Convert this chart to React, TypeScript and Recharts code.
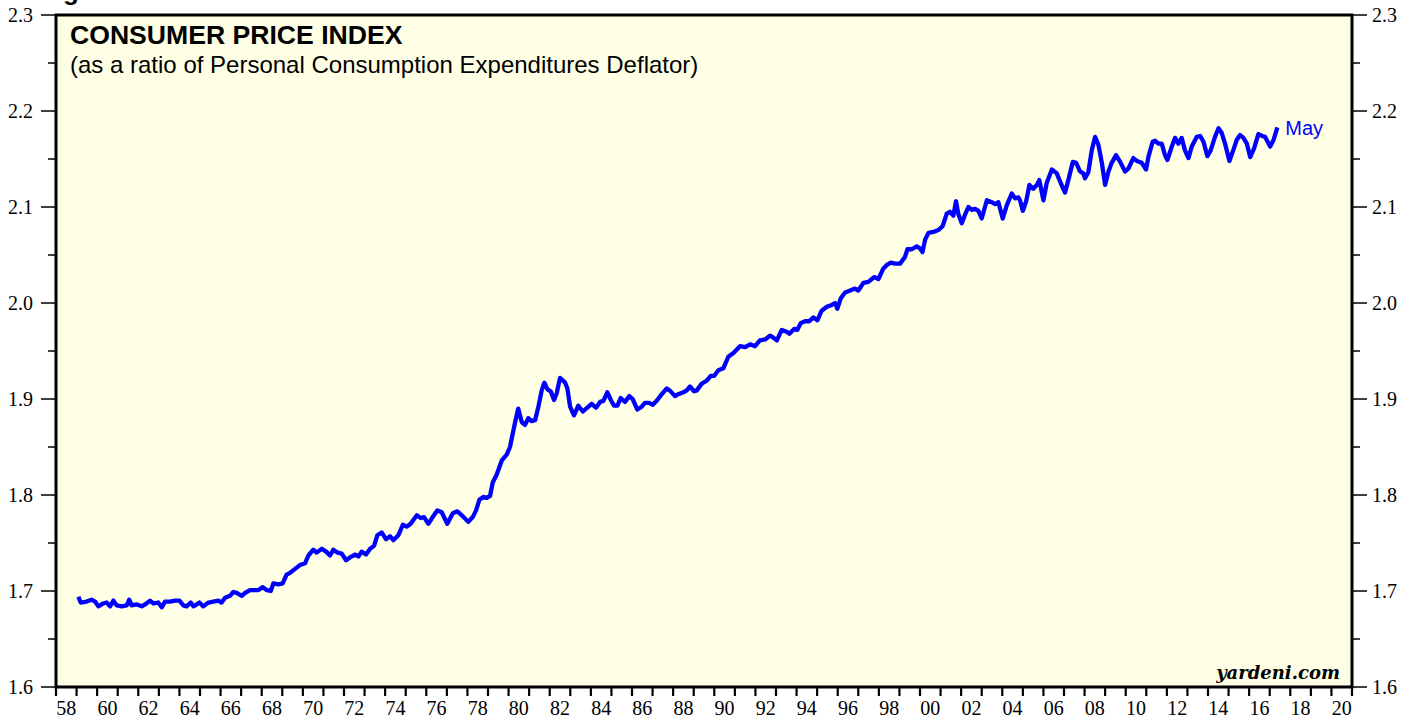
import React from 'react';
import { LineChart, Line, XAxis, YAxis, ReferenceArea } from 'recharts';

// fecha decimal (año + fracción) y cociente IPC / deflactor PCE
const months = [
  1959.09, 1959.2, 1959.49, 1959.73, 1959.9, 1960.06, 1960.3, 1960.46, 1960.63, 1960.79, 1960.95,
  1961.19, 1961.44, 1961.56, 1961.68, 1961.92, 1962.17, 1962.33, 1962.57, 1962.73, 1962.97,
  1963.14, 1963.3, 1963.54, 1963.79, 1964.0, 1964.19, 1964.35, 1964.55, 1964.68, 1964.84, 1964.97,
  1965.16, 1965.41, 1965.65, 1965.89, 1966.05, 1966.22, 1966.46, 1966.62, 1966.78, 1967.03,
  1967.19, 1967.43, 1967.84, 1968.05, 1968.24, 1968.44, 1968.57, 1968.81, 1969.02, 1969.21,
  1969.38, 1969.62, 1969.86,
  1970.11, 1970.27, 1970.51, 1970.67, 1970.92, 1971.13, 1971.32, 1971.48, 1971.68, 1971.89,
  1972.1, 1972.29, 1972.54, 1972.7, 1972.86, 1973.07, 1973.27, 1973.46, 1973.62, 1973.83,
  1974.04, 1974.24, 1974.4, 1974.64, 1974.86, 1975.05, 1975.24, 1975.54, 1975.73, 1975.89,
  1976.1, 1976.31, 1976.54, 1976.75, 1977.02, 1977.29, 1977.51, 1977.77, 1978.04, 1978.26,
  1978.42, 1978.58, 1978.77, 1978.94, 1979.1, 1979.23, 1979.42, 1979.67, 1979.91, 1980.07,
  1980.31, 1980.47,
  1980.64, 1980.8, 1980.96, 1981.12, 1981.29, 1981.45, 1981.61, 1981.74, 1981.89, 1982.05,
  1982.21, 1982.34, 1982.5, 1982.75, 1982.86, 1982.99, 1983.18, 1983.39, 1983.61, 1983.83,
  1984.04, 1984.25, 1984.45, 1984.61, 1984.8, 1984.97, 1985.13, 1985.29, 1985.45, 1985.66,
  1985.87, 1986.03, 1986.26, 1986.47, 1986.63, 1986.84, 1987.01, 1987.23, 1987.45, 1987.69,
  1987.88, 1988.09, 1988.25, 1988.5, 1988.66, 1988.82, 1989.02, 1989.15, 1989.39, 1989.63,
  1989.83, 1989.99, 1990.2, 1990.44,
  1990.68, 1990.93, 1991.25, 1991.5, 1991.74, 1991.98, 1992.22, 1992.47, 1992.71, 1992.87,
  1993.04, 1993.28, 1993.52, 1993.65, 1993.88, 1994.04, 1994.2, 1994.41, 1994.62, 1994.82,
  1995.01, 1995.22, 1995.47, 1995.71, 1995.87, 1995.98, 1996.15, 1996.36, 1996.6, 1996.84,
  1997.0, 1997.25, 1997.49, 1997.77, 1997.98, 1998.22, 1998.41, 1998.58, 1998.79, 1999.03,
  1999.27, 1999.39, 1999.6, 1999.84, 2000.0, 2000.12, 2000.25, 2000.41, 2000.65, 2000.89,
  2001.1, 2001.3,
  2001.46, 2001.62, 2001.75, 2001.86, 2002.03, 2002.19, 2002.35, 2002.52, 2002.68, 2002.84,
  2003.0, 2003.25, 2003.49, 2003.65, 2003.81, 2004.02, 2004.22, 2004.46, 2004.62, 2004.78,
  2004.86, 2005.0, 2005.16, 2005.32, 2005.51, 2005.68, 2005.8, 2006.0, 2006.16, 2006.41,
  2006.65, 2006.84, 2007.05, 2007.21, 2007.43, 2007.59, 2007.78, 2007.94, 2008.02, 2008.18,
  2008.35, 2008.51, 2008.67, 2008.84, 2009.0, 2009.16, 2009.32, 2009.53, 2009.73, 2009.97,
  2010.13,
  2010.37, 2010.54, 2010.78, 2010.99, 2011.1, 2011.31, 2011.43, 2011.59, 2011.75, 2011.91,
  2012.03, 2012.24, 2012.4, 2012.56, 2012.72, 2012.88, 2013.05, 2013.21, 2013.45, 2013.62,
  2013.78, 2013.97, 2014.13, 2014.34, 2014.51, 2014.67, 2014.83, 2015.04, 2015.21, 2015.4,
  2015.56, 2015.72, 2015.89, 2016.05, 2016.24, 2016.45, 2016.63, 2016.78, 2017.02, 2017.19,
  2017.37,
];

const ratio = [
  1.694, 1.688, 1.689, 1.691, 1.689, 1.684, 1.687, 1.688, 1.684, 1.69, 1.685,
  1.684, 1.685, 1.691, 1.685, 1.686, 1.684, 1.686, 1.69, 1.687, 1.688,
  1.683, 1.689, 1.689, 1.69, 1.69, 1.685, 1.684, 1.688, 1.684, 1.686, 1.688,
  1.684, 1.688, 1.689, 1.69, 1.688, 1.693, 1.695, 1.699, 1.698, 1.695,
  1.698, 1.701, 1.701, 1.704, 1.701, 1.7, 1.708, 1.707, 1.708, 1.717,
  1.719, 1.723, 1.727,
  1.729, 1.737, 1.743, 1.74, 1.744, 1.741, 1.737, 1.743, 1.74, 1.739,
  1.732, 1.735, 1.738, 1.736, 1.741, 1.738, 1.744, 1.747, 1.758, 1.761,
  1.754, 1.757, 1.753, 1.758, 1.769, 1.767, 1.77, 1.779, 1.776, 1.777,
  1.77, 1.777, 1.784, 1.782, 1.77, 1.781, 1.783, 1.778, 1.772, 1.777,
  1.784, 1.795, 1.798, 1.797, 1.799, 1.813, 1.821, 1.836, 1.842, 1.85,
  1.875, 1.89,
  1.876, 1.873, 1.88, 1.877, 1.878, 1.892, 1.909, 1.917, 1.91, 1.908,
  1.899, 1.906, 1.922, 1.917, 1.911, 1.892, 1.883, 1.893, 1.887, 1.891,
  1.895, 1.891, 1.897, 1.898, 1.907, 1.899, 1.893, 1.893, 1.901, 1.897,
  1.903, 1.9, 1.889, 1.892, 1.896, 1.896, 1.894, 1.899, 1.905, 1.911,
  1.908, 1.903, 1.905, 1.907, 1.909, 1.913, 1.908, 1.909, 1.916, 1.919,
  1.924, 1.924, 1.93, 1.932,
  1.944, 1.948, 1.955, 1.954, 1.957, 1.955, 1.961, 1.962, 1.966, 1.964,
  1.961, 1.972, 1.97, 1.968, 1.973, 1.972, 1.979, 1.981, 1.981, 1.985,
  1.982, 1.992, 1.996, 1.998, 2.0, 1.994, 2.005, 2.011, 2.013, 2.015,
  2.013, 2.021, 2.022, 2.027, 2.025, 2.036, 2.04, 2.042, 2.041, 2.041,
  2.048, 2.056, 2.056, 2.059, 2.057, 2.053, 2.066, 2.073, 2.074, 2.076,
  2.08, 2.093,
  2.095, 2.091, 2.106, 2.093, 2.083, 2.092, 2.1, 2.097, 2.098, 2.096,
  2.088, 2.107, 2.105, 2.103, 2.105, 2.088, 2.102, 2.114, 2.109, 2.11,
  2.107, 2.096, 2.106, 2.123, 2.119, 2.123, 2.128, 2.107, 2.125, 2.139,
  2.135, 2.125, 2.115, 2.128, 2.147, 2.146, 2.137, 2.135, 2.13, 2.136,
  2.159, 2.173, 2.165, 2.146, 2.123, 2.137, 2.146, 2.154, 2.147, 2.137,
  2.14,
  2.151, 2.148, 2.146, 2.139, 2.152, 2.168, 2.169, 2.166, 2.166, 2.154,
  2.149, 2.163, 2.172, 2.166, 2.172, 2.159, 2.151, 2.163, 2.173, 2.174,
  2.168, 2.153, 2.159, 2.173, 2.182, 2.177, 2.166, 2.148, 2.158, 2.17,
  2.175, 2.172, 2.166, 2.152, 2.161, 2.176, 2.174, 2.173, 2.163, 2.17,
  2.183,
];

const yTicks = [1.6, 1.65, 1.7, 1.75, 1.8, 1.85, 1.9, 1.95, 2.0, 2.05, 2.1, 2.15, 2.2, 2.25, 2.3];
const yearTicks = Array.from({ length: 64 }, (_, i) => 1958 + i);
const lastLabel = 'May';

const data = months.map((t, i) => ({ t, v: ratio[i] }));

const SERIF = '"Liberation Serif", "Times New Roman", serif';
const SANS = '"Liberation Sans", Arial, sans-serif';
const HALF_YEAR = 10.3; // px, etiqueta centrada a mitad de año

const isMajor = (v: number) => Math.abs(v * 10 - Math.round(v * 10)) < 1e-6;

const LeftTick = (props: any) => {
  const { x, y, payload } = props;
  const major = isMajor(payload.value);
  return (
    <g>
      <line x1={x} x2={x - (major ? 15 : 8)} y1={y} y2={y} stroke="#000" strokeWidth={1.5} />
      {major && (
        <text x={x - 23} y={y + 7} textAnchor="end" fontFamily={SERIF} fontSize={20} fill="#000">
          {payload.value.toFixed(1)}
        </text>
      )}
    </g>
  );
};

const RightTick = (props: any) => {
  const { x, y, payload } = props;
  const major = isMajor(payload.value);
  return (
    <g>
      <line x1={x} x2={x + (major ? 15 : 8)} y1={y} y2={y} stroke="#000" strokeWidth={1.5} />
      {major && (
        <text x={x + 20} y={y + 7} textAnchor="start" fontFamily={SERIF} fontSize={20} fill="#000">
          {payload.value.toFixed(1)}
        </text>
      )}
    </g>
  );
};

const YearTick = (props: any) => {
  const { x, y, payload } = props;
  const yr: number = payload.value;
  return (
    <g>
      <line x1={x} x2={x} y1={y} y2={y + 9} stroke="#000" strokeWidth={2.2} />
      {yr % 2 === 0 && yr < 2021 && (
        <text x={x + HALF_YEAR} y={y + 28} textAnchor="middle" fontFamily={SERIF} fontSize={20} fill="#000">
          {String(yr % 100).padStart(2, '0')}
        </text>
      )}
    </g>
  );
};

const LastPointLabel = (props: any) => {
  const { x, y, index } = props;
  if (index !== data.length - 1) return <g />;
  return (
    <text x={x + 8} y={y + 8} fontFamily={SANS} fontSize={20} fill="#0000ff">
      {lastLabel}
    </text>
  );
};

export default function App() {
  return (
    <div style={{ position: 'absolute', left: 0, top: 0, width: 1419, height: 721, background: '#fff', overflow: 'hidden' }}>
      <LineChart width={1419} height={721} data={data} margin={{ top: 15, right: 17, bottom: 4, left: 10 }}>
        <XAxis
          dataKey="t"
          type="number"
          domain={[1958, 2021]}
          ticks={yearTicks}
          interval={0}
          height={30}
          axisLine={false}
          tickLine={false}
          tickSize={0}
          tickMargin={0}
          tick={<YearTick />}
          allowDataOverflow
        />
        <YAxis
          yAxisId="left"
          orientation="left"
          domain={[1.6, 2.3]}
          ticks={yTicks}
          interval={0}
          width={46}
          axisLine={false}
          tickLine={false}
          tickSize={0}
          tickMargin={0}
          tick={<LeftTick />}
          allowDataOverflow
        />
        <YAxis
          yAxisId="right"
          orientation="right"
          domain={[1.6, 2.3]}
          ticks={yTicks}
          interval={0}
          width={50}
          axisLine={false}
          tickLine={false}
          tickSize={0}
          tickMargin={0}
          tick={<RightTick />}
          allowDataOverflow
        />
        <ReferenceArea
          yAxisId="left"
          x1={1958}
          x2={2021}
          y1={1.6}
          y2={2.3}
          fill="#ffffe6"
          fillOpacity={1}
          stroke="#000"
          strokeWidth={3}
        />
        <Line
          yAxisId="left"
          type="linear"
          dataKey="v"
          stroke="#0000ff"
          strokeWidth={4.3}
          strokeLinejoin="round"
          dot={false}
          isAnimationActive={false}
          label={<LastPointLabel />}
        />
      </LineChart>
      <svg width={1419} height={721} style={{ position: 'absolute', left: 0, top: 0, pointerEvents: 'none' }}>
        <text x={40} y={0} fontFamily={SANS} fontWeight="bold" fontSize={26} fill="#000">Figure</text>
        <text x={70} y={44} fontFamily={SANS} fontWeight="bold" fontSize={26.6} fill="#000">CONSUMER PRICE INDEX</text>
        <text x={70} y={73} fontFamily={SANS} fontSize={24} fill="#000">
          (as a ratio of Personal Consumption Expenditures Deflator)
        </text>
        <text x={1340} y={679} textAnchor="end" fontFamily='"DejaVu Serif", serif' fontWeight="bold" fontStyle="italic" fontSize={18} fill="#000">
          yardeni.com
        </text>
      </svg>
    </div>
  );
}
